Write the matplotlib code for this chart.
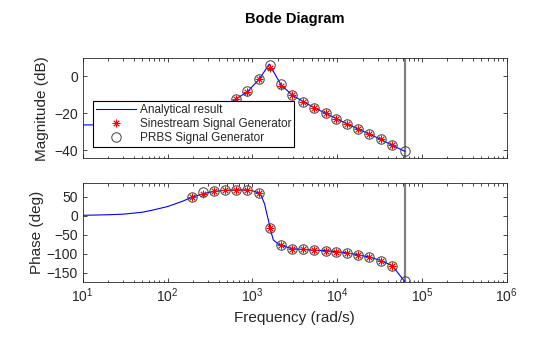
import matplotlib
matplotlib.use("Agg")
import matplotlib.pyplot as plt
from matplotlib.ticker import LogLocator, LogFormatterSciNotation, NullFormatter

plt.rcParams['font.family'] = ['Liberation Sans', 'DejaVu Sans']
plt.rcParams['mathtext.fontset'] = 'custom'
plt.rcParams['mathtext.rm'] = 'Liberation Sans'
plt.rcParams['mathtext.it'] = 'Liberation Sans:italic'
plt.rcParams['mathtext.bf'] = 'Liberation Sans:bold'

# analytical response
w_mag = [10, 20, 40, 70, 100, 150, 196, 264, 353, 481, 647, 873, 1211, 1585,
         2179, 2938, 3993, 5383, 7343, 9794, 13190, 17630, 23970, 32680, 44770, 62832]
mag_an = [-26.3, -26.2, -25.8, -25.2, -24.4, -23.0, -21.7, -20.0, -18.0, -16.0, -12.2,
          -8.4, -1.5, 6.6, -4.6, -10.1, -13.7, -17.0, -20.0, -22.9, -25.8, -28.5,
          -31.2, -34.1, -37.3, -40.5]
w_ph = [10, 20, 30, 50, 66, 100, 150, 196, 264, 353, 481, 647, 873, 1000, 1211, 1291,
        1400, 1479, 1550, 1618, 1700, 1770, 2028, 2179, 2938, 3993, 5383, 7343, 9794,
        13190, 17630, 23970, 32680, 44770, 52700, 56200, 62832]
ph_an = [1, 2.5, 4, 9, 14.5, 24, 38, 49, 58, 64, 67, 68, 68, 66, 59, 50, 30, 6, -12,
         -32, -50, -64, -75, -78, -87, -89, -91, -92, -95, -98, -103, -109, -118,
         -132, -152, -160, -173]

# sinestream estimates
w_sine = [196, 264, 353, 481, 647, 873, 1211, 1618, 2179, 2938, 3993, 5383, 7343,
          9794, 13190, 17630, 23970, 32680, 44770]
mag_sine = [-21.7, -20.0, -18.0, -16.0, -12.3, -8.4, -1.5, 4.5, -5.1, -10.3, -13.7,
            -17.0, -20.0, -22.9, -25.8, -28.5, -31.2, -34.1, -37.3]
ph_sine = [49, 56, 64.7, 69, 69, 68.4, 59.5, -32, -78, -86.8, -88.7, -91.3, -92.1,
           -94.7, -98.4, -102.6, -108.9, -118.4, -132.6]

# PRBS estimates
w_prbs = [196, 264, 353, 481, 647, 873, 1211, 1618, 2179, 2938, 3993, 5383, 7343,
          9794, 13190, 17630, 23970, 32680, 44770, 62832]
mag_prbs = [-21.7, -20.0, -18.0, -16.0, -12.1, -8.1, -1.5, 5.9, -4.3, -9.9, -13.7,
            -17.0, -20.0, -22.9, -25.8, -28.5, -31.2, -34.1, -37.3, -40.5]
ph_prbs = [49, 63, 64.7, 69, 69, 68.4, 59.5, -33, -78, -86.8, -88.7, -91.3, -92.1,
           -94.7, -98.4, -102.6, -108.9, -118.4, -132.6, -172]

w_nyq = 62832

txt = '#262626'
star = (8, 2, 0)

fig = plt.figure(figsize=(5.6, 3.37), dpi=100)
ax1 = fig.add_axes([0.1477, 0.5303, 0.7571, 0.2967])
ax2 = fig.add_axes([0.1477, 0.1641, 0.7571, 0.2938])

for ax in (ax1, ax2):
    ax.axvline(w_nyq, color='#808080', lw=1.6, zorder=1)

l1, = ax1.semilogx(w_mag, mag_an, color='#0000ff', lw=0.8, zorder=2)
l2, = ax1.semilogx(w_sine, mag_sine, ls='none', marker=star, ms=5.5, mec='#ff0000',
                   mew=0.6, zorder=3)
l3, = ax1.semilogx(w_prbs, mag_prbs, ls='none', marker='o', ms=6.8, mfc='none',
                   mec='#404040', mew=0.7, zorder=4)
ax2.semilogx(w_ph, ph_an, color='#0000ff', lw=0.8, zorder=2)
ax2.semilogx(w_sine, ph_sine, ls='none', marker=star, ms=5.5, mec='#ff0000',
             mew=0.6, zorder=3)
ax2.semilogx(w_prbs, ph_prbs, ls='none', marker='o', ms=6.8, mfc='none',
             mec='#404040', mew=0.7, zorder=4)

ax1.set_ylim(-44.3, 9.7)
ax1.set_yticks([-40, -20, 0])
ax2.set_ylim(-174, 87)
ax2.set_yticks([-150, -100, -50, 0, 50])

for ax in (ax1, ax2):
    ax.set_xlim(10, 1e6)
    ax.xaxis.set_major_locator(LogLocator(base=10, numticks=10))
    ax.xaxis.set_minor_locator(LogLocator(base=10, subs=range(2, 10), numticks=20))
    ax.xaxis.set_minor_formatter(NullFormatter())
    ax.tick_params(which='both', direction='in', top=True, right=True,
                   colors=txt, labelsize=10, width=0.6)
    ax.tick_params(which='major', length=3)
    ax.tick_params(which='minor', length=1.8)
    for s in ax.spines.values():
        s.set_color(txt)
        s.set_linewidth(0.6)

ax1.tick_params(labelbottom=False)
ax2.xaxis.set_major_formatter(LogFormatterSciNotation())

ax1.set_ylabel('Magnitude (dB)', fontsize=11, color=txt)
ax2.set_ylabel('Phase (deg)', fontsize=11, color=txt, labelpad=2)
ax2.set_xlabel('Frequency (rad/s)', fontsize=11, color=txt)
fig.text(0.526, 0.945, 'Bode Diagram', fontsize=10.5, fontweight='bold',
         ha='center', va='center', color='#000000')

leg = ax1.legend([l1, l2, l3],
                 ['Analytical result', 'Sinestream Signal Generator',
                  'PRBS Signal Generator'],
                 loc='lower left', bbox_to_anchor=(0.025, 0.113), fontsize=8.5,
                 fancybox=False, framealpha=1, edgecolor='#000000',
                 handlelength=3.4, handletextpad=0.3, borderpad=0.25,
                 labelspacing=0.18, borderaxespad=0, numpoints=1)
leg.get_frame().set_linewidth(0.8)
leg.set_zorder(10)
for t in leg.get_texts():
    t.set_color(txt)

fig.savefig('out.png', dpi=100)
